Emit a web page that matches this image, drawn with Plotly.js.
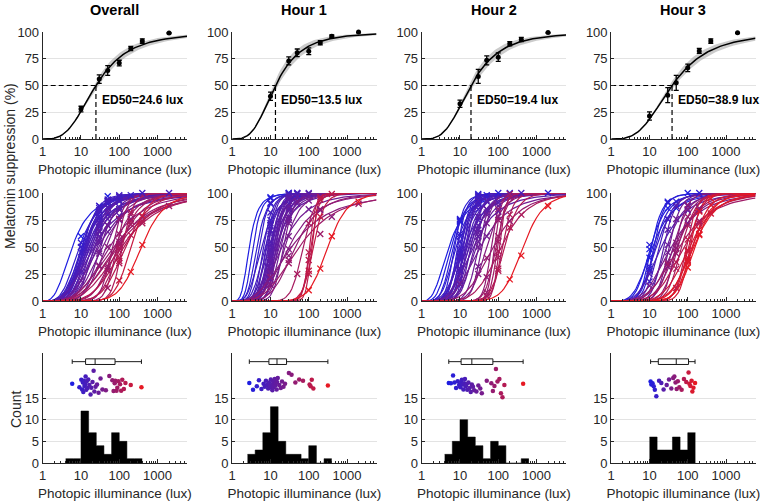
<!DOCTYPE html>
<html><head><meta charset="utf-8">
<script src="https://cdn.plot.ly/plotly-3.0.1.min.js"></script>
<style>html,body{margin:0;padding:0;background:#fff}#chart{width:762px;height:501px}</style>
</head><body><div id="chart"></div>
<script>
// ================= DATA =================
const panelTitles = ['Overall', 'Hour 1', 'Hour 2', 'Hour 3'];
const luxLevels = [10, 30, 50, 100, 200, 400, 2000];

// group means (top row) and SEM
const meanOverall = [28, 56, 64, 71, 84.5, 91.5, 99];
const semOverall  = [2.6, 4, 4.5, 2.6, 2, 2, 0.5];
const meanHour1   = [40, 73, 80.5, 82, 90, 96, 100];
const semHour1    = [3.9, 3.7, 3.6, 3.1, 2, 1.2, 0.5];
const meanHour2   = [33, 58.5, 73.5, 76.5, 89, 93, 99.5];
const semHour2    = [3.4, 6.5, 4.2, 3.9, 2, 2, 0.5];
const meanHour3   = [21.5, 41, 52.5, 66.5, 82.3, 91.5, 99.3];
const semHour3    = [3.9, 7, 7, 3.5, 2.3, 2, 0.5];

// group fit parameters
const groupED50   = [24.6, 13.5, 19.4, 38.9];
const groupSlope  = [3.2, 3.3, 3.3, 3.2];
const groupED50Lo = [21.5, 11.6, 16.6, 33.0];
const groupED50Hi = [28.2, 15.7, 22.6, 46.0];

// lux values at which fitted curves are drawn
const curveLux = [1,1.1,1.2,1.3,1.4,1.6,1.8,2,2.2,2.5,2.8,3.2,3.6,4,4.5,5,5.6,6.3,7,8,9,10,11,12.5,14,16,18,20,22,25,28,32,36,40,45,50,56,63,70,75,80,85,90,95,100,105,110,118,125,140,160,180,200,220,250,280,320,360,400,450,500,560,630,700,800,900,1000,1250,1600,2000,2500,3200,4000,5000,5900];

// individual ED50 (lux) and slopes
const ed50Overall = [5.9,9.1,10.2,10.7,11.2,11.5,12.0,12.3,12.9,13.2,13.8,14.1,14.8,15.5,16.6,17.8,18.6,20.0,21.4,22.4,24.0,26.3,28.8,32.4,36.3,44.7,55,66,71,76,79,85,89,95,105,112,120,132,145,200,380];
const slopeOverall = [3,3.8,4.5,5,3.8,6,4.8,4.2,5.5,4.5,3.5,6.5,4.5,3.8,5,3.8,6,4.5,3.2,6.5,4.5,5,3.8,7,4.5,6,4,12,3.5,7,4,14,3.8,6,8,4,15,5,7,11,8.6];
const ed50Hour1 = [2.8,3.5,4.4,5.0,5.8,6.6,7.1,7.6,8.1,8.7,9.1,9.8,10.2,10.5,11.0,11.2,11.7,12.0,12.6,12.9,13.5,13.8,14.5,14.8,15.5,17.0,18.6,20.0,21.9,24.0,30.2,35.5,44.7,56.2,70.8,105,112,120,132,316];
const slopeHour1 = [4,5,5,6,4,7,5,8,6,9,5,7,8,6,10,5,7,9,6,8,4.5,11,7,6,9,6,8,4,10,7,4,3,5,3.5,12,25,20,28,15,9.7];
const ed50Hour2 = [5.1,5.8,6.6,7.2,7.9,8.7,9.5,10.2,10.7,11.2,11.7,12.3,12.9,13.5,14.1,14.8,15.5,16.6,17.8,19.1,20.4,21.9,23.4,26.9,30.2,33.9,37.2,50.1,66,72.4,79.4,87.1,95.5,107,117.5,129,144.5,447];
const slopeHour2 = [3,4,5,7,4.5,8,6,6,9,5,7,10,4,8,6,11,5,7,5,9,6,4,8,6,10,4,12,8,18,5,22,14,20,25,6,16,12,9.8];
const ed50Hour3 = [10.7,11.2,12.0,12.9,13.8,15.1,17.8,20.4,23.4,28.2,32.4,37.2,41.7,44.7,47.9,51.3,55,60.3,69.2,79.4,91.2,105,110,117,126,132,141,155];
const slopeHour3 = [5,7,4,8,6,5,7,4,9,6,10,4,8,5,12,6,9,4,10,5,14,12,6,15,8,10,7,9];

// individual measurements [subject index, lux, suppression %]
const markersOverall = [[0,10,60],[0,30,88],[0,50,97],[1,10,54],[1,30,84],[1,50,90],[2,10,50],[2,50,92],[2,100,96],[3,30,86],[3,50,93],[3,200,98],[4,10,45],[4,30,78],[5,30,88],[5,100,98],[5,400,100],[6,30,81],[6,50,90],[7,30,78],[7,100,93],[8,30,83],[8,50,92],[8,2000,100],[9,30,76],[9,50,87],[10,30,72],[10,100,87],[11,30,84],[11,50,94],[11,100,97],[12,30,73],[12,100,92],[13,30,68],[13,50,80],[14,10,27],[14,30,72],[15,30,65],[15,100,85],[16,30,70],[16,50,86],[17,30,64],[17,50,76],[18,30,60],[18,100,79],[19,30,65],[19,50,82],[20,30,56],[20,100,85],[21,30,54],[21,50,70],[22,10,19],[22,50,64],[23,30,46],[23,50,70],[24,30,44],[24,100,75],[25,30,33],[25,100,76],[26,50,50],[26,200,76],[27,50,30],[27,100,76],[28,30,32],[28,100,55],[29,50,32],[29,200,80],[30,100,53],[30,400,78],[31,50,12],[31,100,62],[32,100,52],[32,2000,88],[33,50,28],[33,200,71],[34,100,47],[34,200,74],[35,100,49],[35,400,72],[36,100,35],[36,200,82],[37,100,40],[37,400,74],[38,100,37],[38,200,61],[39,100,19],[39,400,79],[40,200,27],[40,400,52]];
const markersHour1 = [[0,10,96],[0,30,100],[1,10,95],[1,50,100],[2,10,90],[2,30,100],[3,10,91],[3,50,99],[4,10,75],[4,30,94],[5,10,82],[5,30,99],[6,10,70],[6,30,95],[7,10,72],[7,100,100],[8,10,65],[8,30,96],[9,10,62],[9,50,100],[10,10,55],[10,30,90],[11,10,52],[11,30,93],[12,10,46],[12,30,96],[13,10,48],[13,50,97],[14,10,40],[14,30,98],[15,10,44],[15,30,85],[16,10,38],[16,100,99],[17,10,35],[17,30,94],[18,10,35],[18,30,86],[19,10,30],[19,50,97],[20,10,38],[20,30,78],[21,10,20],[21,30,95],[22,10,27],[22,30,83],[23,10,28],[23,50,90],[24,10,15],[24,30,88],[25,10,22],[25,30,75],[26,30,77],[26,100,97],[27,10,26],[27,100,85],[28,30,72],[28,50,92],[29,30,60],[29,100,93],[30,10,15],[30,30,48],[30,200,84],[31,10,22],[31,30,42],[31,400,78],[32,30,38],[32,200,85],[33,30,35],[33,200,62],[33,2000,90],[34,50,25],[34,100,72],[35,100,45],[35,200,96],[36,100,38],[36,400,99],[37,100,25],[37,200,94],[38,100,28],[38,200,78],[39,100,10],[39,200,30],[39,400,60],[39,2000,92]];
const markersHour2 = [[0,10,74],[0,30,91],[1,10,76],[1,30,95],[2,10,73],[2,50,98],[2,100,100],[3,10,75],[3,30,99],[3,2000,100],[4,10,60],[4,30,90],[5,10,62],[5,30,98],[5,200,100],[6,10,55],[6,30,92],[7,10,48],[7,50,96],[8,10,44],[8,30,97],[9,10,42],[9,30,85],[10,10,38],[10,30,90],[11,10,30],[11,30,96],[11,400,100],[12,10,40],[12,50,85],[13,10,28],[13,30,88],[14,10,30],[14,50,92],[15,10,15],[15,30,93],[16,10,30],[16,30,75],[17,10,20],[17,30,78],[18,30,70],[18,100,91],[19,30,78],[19,50,93],[20,30,66],[20,50,82],[21,30,60],[21,100,83],[22,30,63],[22,50,85],[23,30,55],[23,100,88],[24,30,50],[24,50,80],[25,10,16],[25,50,60],[26,30,32],[26,50,72],[27,30,25],[27,100,78],[28,50,22],[28,100,85],[29,50,40],[29,200,74],[30,50,8],[30,100,75],[31,100,60],[31,200,96],[32,50,5],[32,100,55],[33,100,40],[33,200,99],[34,100,46],[34,400,80],[35,100,30],[35,200,80],[36,100,28],[36,200,68],[37,200,20],[37,400,42],[37,2000,88]];
const markersHour3 = [[0,10,48],[0,30,86],[1,10,40],[1,30,92],[1,100,100],[2,10,52],[2,50,86],[3,10,30],[3,30,91],[3,200,100],[4,10,32],[4,50,92],[5,10,28],[5,30,76],[6,10,18],[6,30,76],[7,10,25],[7,100,84],[8,30,66],[8,50,88],[9,30,52],[9,100,88],[10,30,45],[10,50,76],[11,10,14],[11,100,72],[12,30,32],[12,100,85],[13,30,36],[13,200,84],[14,50,54],[14,100,89],[15,50,49],[15,200,86],[16,50,44],[16,100,78],[17,30,34],[17,200,74],[18,50,30],[18,100,70],[19,50,36],[19,200,72],[20,50,12],[20,100,57],[21,100,47],[21,200,83],[22,100,46],[22,400,81],[23,100,38],[23,200,83],[24,100,40],[24,200,66],[25,100,36],[25,400,89],[26,100,37],[26,200,62],[27,100,31],[27,200,61],[27,400,95]];

// vertical jitter of ED50 dots (bottom row)
const dotYOverall = [18.3,17.5,19.2,17.0,18.6,16.4,19.0,17.8,18.2,20.0,16.9,18.8,17.3,19.3,18.0,15.8,17.4,18.7,21.3,16.5,17.6,18.1,16.2,19.5,17.0,16.8,20.1,19.1,16.6,18.4,19.0,16.7,17.4,18.9,18.2,16.7,19.2,17.1,18.5,18.0,17.5];
const dotYHour1 = [18.5,16.9,17.7,19.1,17.1,18.3,17.6,19.0,18.0,17.2,18.6,17.8,19.3,17.4,18.1,16.8,18.9,17.5,18.2,19.4,17.9,18.4,17.0,18.7,19.6,18.0,17.3,18.8,17.6,18.3,20.8,20.4,18.6,19.3,19.0,18.1,17.7,19.2,17.2,17.9];
const dotYHour2 = [18.5,18.4,20.2,18.6,17.3,18.9,18.0,17.5,18.7,19.2,18.1,17.0,18.4,19.4,17.7,18.2,16.9,18.6,17.3,16.4,18.1,17.6,16.8,16.5,17.9,17.2,16.1,19.0,18.4,16.6,17.8,21.7,18.8,19.4,16.1,15.2,18.0,18.3];
const dotYHour3 = [18.8,18.1,18.4,17.7,16.9,15.4,19.0,18.5,17.0,18.0,19.3,17.2,19.6,20.0,18.6,17.1,18.9,17.5,16.9,19.4,18.7,20.9,18.3,17.8,19.0,16.5,17.4,18.5];

// box plot statistics of ED50 (lux)
const boxLow  = [5.9, 2.8, 5.1, 10.7];
const boxQ1   = [13.2, 9.1, 10.7, 17.0];
const boxMed  = [23.4, 14.8, 20.4, 50.1];
const boxQ3   = [77.6, 26.3, 72.4, 104.7];
const boxHigh = [380, 316, 447, 155];

// histograms of ED50 (bin edges in lux, counts)
const histEdgesOverall  = [3.98,6.31,10,15.85,25.12,39.81,63.1,100,158.5,251.2,398.1];
const histCountsOverall = [1,1,12,7,4,2,7,5,1,1];
const histEdgesHour1  = [2.51,3.98,6.31,10,15.85,25.12,39.81,63.1,100,158.5,251.2,398.1];
const histCountsHour1 = [2,3,7,13,5,2,2,1,4,0,1];
const histEdgesHour2  = [3.98,6.31,10,15.85,25.12,39.81,63.1,100,158.5,251.2,398.1,631];
const histCountsHour2 = [2,5,10,6,4,1,5,4,0,0,1];
const histEdgesHour3  = [10,15.85,25.12,39.81,63.1,100,158.5];
const histCountsHour3 = [6,3,3,6,3,7];

// axis ticks
const xTickVals = [1, 10, 100, 1000];
const xTickText = ['1', '10', '100', '1000'];
const xMinorVals = [2,3,4,5,6,7,8,9,20,30,40,50,60,70,80,90,200,300,400,500,600,700,800,900,2000,3000,4000,5000];
const suppTicks = [0, 25, 50, 75, 100];
const countTicks = [0, 5, 10, 15];

// ================= STYLE / LAYOUT =================
const FONT = 'Liberation Sans, Arial, Helvetica, sans-serif';
const INK = '#262626';
const W = 762, H = 501;
const colPx = [[42.7,187],[232.2,376.5],[421.7,566],[611.2,755.5]];
const rowPx = [[32,139],[193,301],[353,463]];
const X_RANGE = [0, 3.77];
const COUNT_TOP = 25.4;
const BOX_ROW_Y = 23.4;

const panels = [
  {mean: meanOverall, sem: semOverall, ed50: ed50Overall, slope: slopeOverall, markers: markersOverall, dotY: dotYOverall, edges: histEdgesOverall, counts: histCountsOverall},
  {mean: meanHour1, sem: semHour1, ed50: ed50Hour1, slope: slopeHour1, markers: markersHour1, dotY: dotYHour1, edges: histEdgesHour1, counts: histCountsHour1},
  {mean: meanHour2, sem: semHour2, ed50: ed50Hour2, slope: slopeHour2, markers: markersHour2, dotY: dotYHour2, edges: histEdgesHour2, counts: histCountsHour2},
  {mean: meanHour3, sem: semHour3, ed50: ed50Hour3, slope: slopeHour3, markers: markersHour3, dotY: dotYHour3, edges: histEdgesHour3, counts: histCountsHour3}
];

function hill(lux, ed50, n) {
  const L = Math.log10(lux);
  if (L <= 0) return 0;
  return 100 / (1 + Math.pow(Math.log10(ed50) / L, n));
}
function ramp(t) {
  const r = Math.round(30 + 200 * t), g = Math.round(30 - 5 * t), b = Math.round(225 - 190 * t);
  return 'rgb(' + r + ',' + g + ',' + b + ')';
}
const sfx = k => (k === 1 ? '' : String(k));

const traces = [];
const layout = {
  width: W, height: H, margin: {l: 0, r: 0, t: 0, b: 0},
  paper_bgcolor: '#fff', plot_bgcolor: '#fff', showlegend: false, hovermode: false,
  font: {family: FONT, color: INK, size: 13},
  annotations: []
};

function makeX(c, r, k) {
  const [a, b] = colPx[c];
  return {
    domain: [a / W, b / W], anchor: 'y' + sfx(k), type: 'log', range: X_RANGE,
    tickmode: 'array', tickvals: xTickVals, ticktext: xTickText,
    ticks: 'inside', ticklen: 4, tickwidth: 1, tickcolor: INK,
    minor: {tickvals: xMinorVals, ticks: 'inside', ticklen: 2, tickcolor: INK, showgrid: false},
    showline: true, linecolor: INK, linewidth: 1, showgrid: false, zeroline: false,
    tickfont: {family: FONT, size: 13, color: INK},
    title: {text: 'Photopic illuminance (lux)', font: {family: FONT, size: 13.5, color: INK}, standoff: 6},
    fixedrange: true
  };
}
function makeY(c, r, k) {
  const [a, b] = rowPx[r];
  const bottom = r === 2;
  return {
    domain: [1 - b / H, 1 - a / H], anchor: 'x' + sfx(k),
    range: bottom ? [0, COUNT_TOP] : [0, 100],
    tickmode: 'array', tickvals: bottom ? countTicks : suppTicks,
    ticks: 'inside', ticklen: 3, tickcolor: INK,
    showline: true, linecolor: INK, linewidth: 1,
    showgrid: true, gridcolor: '#e3e3e3', gridwidth: 1, zeroline: false,
    tickfont: {family: FONT, size: 13, color: INK}, fixedrange: true
  };
}

panels.forEach((p, c) => {
  const kTop = c + 1, kMid = c + 5, kBot = c + 9;
  [kTop, kMid, kBot].forEach((k, r) => {
    layout['xaxis' + sfx(k)] = makeX(c, r, k);
    layout['yaxis' + sfx(k)] = makeY(c, r, k);
  });
  const axTop = {xaxis: 'x' + sfx(kTop), yaxis: 'y' + sfx(kTop)};
  const axMid = {xaxis: 'x' + sfx(kMid), yaxis: 'y' + sfx(kMid)};
  const axBot = {xaxis: 'x' + sfx(kBot), yaxis: 'y' + sfx(kBot)};

  // ---- top row: group fit with confidence band ----
  const e50 = groupED50[c], n = groupSlope[c];
  traces.push(Object.assign({type: 'scatter', mode: 'lines', x: curveLux,
    y: curveLux.map(x => hill(x, groupED50Hi[c], n * 0.92)), line: {width: 0, color: 'rgba(0,0,0,0)'}}, axTop));
  traces.push(Object.assign({type: 'scatter', mode: 'lines', x: curveLux,
    y: curveLux.map(x => hill(x, groupED50Lo[c], n * 1.08)), line: {width: 0, color: 'rgba(0,0,0,0)'},
    fill: 'tonexty', fillcolor: 'rgba(160,160,160,0.55)'}, axTop));
  traces.push(Object.assign({type: 'scatter', mode: 'lines', x: curveLux,
    y: curveLux.map(x => hill(x, e50, n)), line: {width: 1.5, color: '#000'}}, axTop));
  traces.push(Object.assign({type: 'scatter', mode: 'lines', x: [1, e50], y: [50, 50],
    line: {width: 1.2, color: '#000', dash: '5px,3px'}}, axTop));
  traces.push(Object.assign({type: 'scatter', mode: 'lines', x: [e50, e50], y: [0, 50],
    line: {width: 1.2, color: '#000', dash: '5px,3px'}}, axTop));
  traces.push(Object.assign({type: 'scatter', mode: 'markers', x: luxLevels, y: p.mean,
    marker: {size: 5, color: '#000'}, cliponaxis: false,
    error_y: {type: 'data', array: p.sem, visible: true, color: '#000', thickness: 1.3, width: 2.5}}, axTop));
  layout.annotations.push({xref: 'x' + sfx(kTop), yref: 'y' + sfx(kTop), x: Math.log10(e50), y: 36,
    xanchor: 'left', yanchor: 'middle', xshift: 4, showarrow: false,
    text: 'ED50=' + e50.toFixed(1) + ' lux', font: {family: FONT, size: 12, color: '#000', weight: 'bold'}});

  // ---- colours by individual ED50 ----
  const logs = p.ed50.map(v => Math.log10(v));
  const lo = Math.min(...logs), hi = Math.max(...logs);
  const cols = logs.map(v => ramp((v - lo) / (hi - lo)));

  // ---- middle row: individual fits ----
  p.ed50.forEach((e, i) => {
    traces.push(Object.assign({type: 'scatter', mode: 'lines', x: curveLux,
      y: curveLux.map(x => hill(x, e, p.slope[i])), line: {width: 1.2, color: cols[i]}}, axMid));
  });
  traces.push(Object.assign({type: 'scatter', mode: 'markers', cliponaxis: false,
    x: p.markers.map(m => m[1]), y: p.markers.map(m => m[2]),
    marker: {symbol: 'x-thin', size: 6, color: p.markers.map(m => cols[m[0]]),
      line: {width: 1.3, color: p.markers.map(m => cols[m[0]])}}}, axMid));

  // ---- bottom row: histogram, dots, box ----
  traces.push(Object.assign({type: 'scatter', mode: 'lines', x: p.edges,
    y: p.counts.concat([p.counts[p.counts.length - 1]]),
    line: {shape: 'hv', color: '#000', width: 0.5}, fill: 'tozeroy', fillcolor: '#000'}, axBot));
  traces.push(Object.assign({type: 'scatter', mode: 'markers', x: p.ed50, y: p.dotY,
    marker: {size: 4.5, color: cols}}, axBot));
  traces.push(Object.assign({type: 'box', orientation: 'h', y: [BOX_ROW_Y],
    q1: [boxQ1[c]], median: [boxMed[c]], q3: [boxQ3[c]], lowerfence: [boxLow[c]], upperfence: [boxHigh[c]],
    width: 1.3, whiskerwidth: 0.8, fillcolor: '#fff', line: {color: '#1a1a1a', width: 1},
    boxpoints: false, hoverinfo: 'skip'}, axBot));

  // column title
  layout.annotations.push({xref: 'paper', yref: 'paper', x: (colPx[c][0] + colPx[c][1]) / 2 / W, y: 1 - 10 / H,
    xanchor: 'center', yanchor: 'middle', showarrow: false, text: panelTitles[c],
    font: {family: FONT, size: 14.5, color: '#000', weight: 'bold'}});
});

layout.annotations.push({xref: 'paper', yref: 'paper', x: 10 / W, y: 1 - 166 / H, textangle: -90,
  xanchor: 'center', yanchor: 'middle', showarrow: false, text: 'Melatonin suppression (%)',
  font: {family: FONT, size: 14, color: INK}});
layout.annotations.push({xref: 'paper', yref: 'paper', x: 16 / W, y: 1 - 410 / H, textangle: -90,
  xanchor: 'center', yanchor: 'middle', showarrow: false, text: 'Count',
  font: {family: FONT, size: 14, color: INK}});

Plotly.newPlot('chart', traces, layout, {displayModeBar: false, staticPlot: true});
</script>
</body></html>
